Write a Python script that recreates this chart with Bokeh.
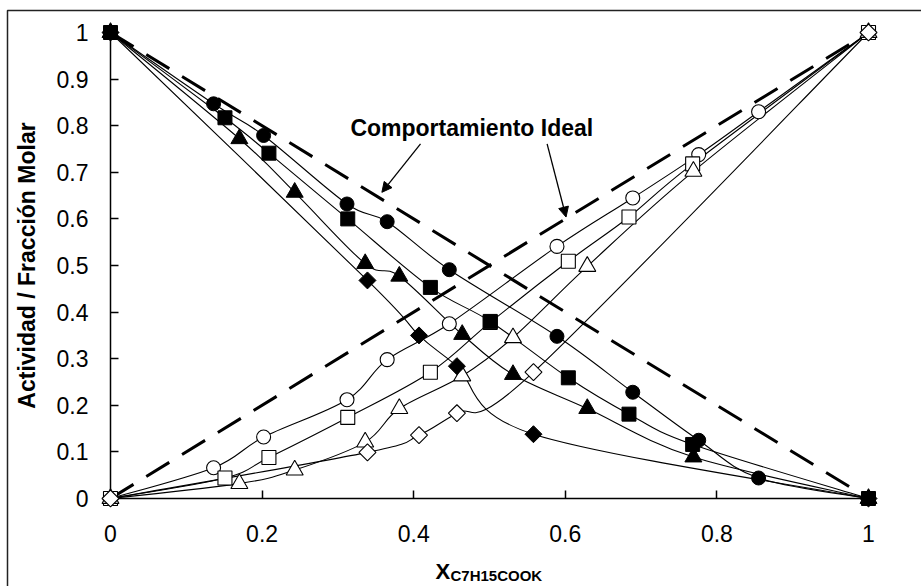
import math
from bokeh.plotting import figure
from bokeh.models import Range1d, FixedTicker, Label, Arrow, NormalHead
from bokeh.core.properties import value
from bokeh.embed import file_html
from bokeh.resources import INLINE

# ---------------- data ----------------
x_circ = [0, 0.136, 0.202, 0.312, 0.365, 0.447, 0.589, 0.689, 0.776, 0.855, 1]
y_circ_filled = [1, 0.847, 0.779, 0.632, 0.594, 0.491, 0.348, 0.228, 0.125, 0.044, 0]
y_circ_open = [0, 0.066, 0.132, 0.212, 0.298, 0.375, 0.541, 0.645, 0.738, 0.830, 1]

x_sq = [0, 0.151, 0.209, 0.313, 0.422, 0.501, 0.604, 0.684, 0.768, 1]
y_sq_filled = [1, 0.817, 0.741, 0.600, 0.453, 0.380, 0.259, 0.181, 0.116, 0]
y_sq_open = [0, 0.044, 0.088, 0.174, 0.271, 0.378, 0.509, 0.604, 0.718, 1]

x_tri = [0, 0.170, 0.243, 0.336, 0.381, 0.464, 0.531, 0.629, 0.769, 1]
y_tri_filled = [1, 0.772, 0.657, 0.504, 0.477, 0.352, 0.266, 0.193, 0.089, 0]
y_tri_open = [0, 0.032, 0.061, 0.121, 0.193, 0.263, 0.345, 0.498, 0.702, 1]

x_dia = [0, 0.339, 0.407, 0.457, 0.558, 1]
y_dia_filled = [1, 0.468, 0.350, 0.284, 0.138, 0]
y_dia_open = [0, 0.099, 0.136, 0.183, 0.271, 1]

x_ideal = [0, 1]
y_ideal_desc = [1, 0]
y_ideal_asc = [0, 1]

x_ticks = [0, 0.2, 0.4, 0.6, 0.8, 1]
x_tick_labels = ["0", "0.2", "0.4", "0.6", "0.8", "1"]
y_ticks = [0, 0.1, 0.2, 0.3, 0.4, 0.5, 0.6, 0.7, 0.8, 0.9, 1]
y_tick_labels = ["0", "0.1", "0.2", "0.3", "0.4", "0.5", "0.6", "0.7", "0.8", "0.9", "1"]

y_title = "Actividad / Fracción Molar"
x_title_main = "X"
x_title_sub = "C7H15COOK"
note_text = "Comportamiento Ideal"

FONT = "Liberation Sans"

# ---------------- figure ----------------
p = figure(width=921, height=586, x_range=Range1d(0, 1), y_range=Range1d(0, 1),
           output_backend="svg", toolbar_location=None, title=None,
           min_border_left=110, min_border_right=53, min_border_top=32, min_border_bottom=88)
p.grid.visible = False
p.outline_line_color = None
p.background_fill_color = "white"
p.border_fill_color = "white"

for ax in (p.xaxis, p.yaxis):
    ax.axis_line_width = 1.5
    ax.axis_line_color = "black"
    ax.major_tick_line_width = 1.5
    ax.major_tick_line_color = "black"
    ax.major_tick_in = 8
    ax.major_tick_out = 0
    ax.minor_tick_in = 0
    ax.minor_tick_out = 0
    ax.major_label_text_font = FONT
    ax.major_label_text_font_size = "23px"
    ax.major_label_text_color = "black"

p.xaxis.ticker = FixedTicker(ticks=x_ticks)
p.xaxis.major_label_overrides = {t: s for t, s in zip(x_ticks, x_tick_labels)}
p.xaxis.major_label_standoff = 26
p.yaxis.ticker = FixedTicker(ticks=y_ticks)
p.yaxis.major_label_overrides = {t: s for t, s in zip(y_ticks, y_tick_labels)}
p.yaxis.major_label_standoff = 22
p.yaxis.axis_label = y_title
p.yaxis.axis_label_text_font = FONT
p.yaxis.axis_label_text_font_style = "bold"
p.yaxis.axis_label_text_font_size = "23px"
p.yaxis.axis_label_text_color = "black"
p.yaxis.axis_label_standoff = 14

# outer chart border (left and top edges visible in the crop)
bx0 = (7 - 110) / 758.0
by0 = (498 - 10) / 466.0
p.line([bx0, bx0, 1.2], [-0.3, by0, by0], line_color="#222222", line_width=1.5, level="overlay")

# ideal behaviour dashed lines
p.line(x_ideal, y_ideal_desc, line_color="black", line_width=3, line_dash="27 15")
p.line(x_ideal, y_ideal_asc, line_color="black", line_width=3, line_dash="27 15")


def smooth(xs, ys):
    n = len(xs)
    out = dict(x0=[], y0=[], x1=[], y1=[], cx0=[], cy0=[], cx1=[], cy1=[])
    for i in range(n - 1):
        a = i - 1 if i > 0 else i
        d = i + 2 if i + 2 < n else i + 1
        out["x0"].append(xs[i]); out["y0"].append(ys[i])
        out["x1"].append(xs[i + 1]); out["y1"].append(ys[i + 1])
        out["cx0"].append(xs[i] + (xs[i + 1] - xs[a]) / 6.0)
        out["cy0"].append(ys[i] + (ys[i + 1] - ys[a]) / 6.0)
        out["cx1"].append(xs[i + 1] - (xs[d] - xs[i]) / 6.0)
        out["cy1"].append(ys[i + 1] - (ys[d] - ys[i]) / 6.0)
    return out


series = [
    (x_circ, y_circ_filled), (x_sq, y_sq_filled), (x_tri, y_tri_filled), (x_dia, y_dia_filled),
    (x_circ, y_circ_open), (x_sq, y_sq_open), (x_tri, y_tri_open), (x_dia, y_dia_open),
]
for xs, ys in series:
    b = smooth(xs, ys)
    p.bezier(b["x0"], b["y0"], b["x1"], b["y1"], b["cx0"], b["cy0"], b["cx1"], b["cy1"],
             line_color="black", line_width=1.1)

# markers
open_kw = dict(fill_color="white", line_color="black", line_width=1.1, level="overlay")
filled_kw = dict(fill_color="black", line_color="black", line_width=1, level="overlay")
p.scatter(x_circ, y_circ_open, marker="circle", size=14, **open_kw)
p.scatter(x_sq, y_sq_open, marker="square", size=14, **open_kw)
p.scatter(x_tri, y_tri_open, marker="triangle", size=17, **open_kw)
p.scatter(x_dia, y_dia_open, marker="square", size=12, angle=math.pi / 4, **open_kw)
p.scatter(x_circ, y_circ_filled, marker="circle", size=14, **filled_kw)
p.scatter(x_sq, y_sq_filled, marker="square", size=14, **filled_kw)
p.scatter(x_tri, y_tri_filled, marker="triangle", size=17, **filled_kw)
p.scatter(x_dia, y_dia_filled, marker="square", size=12, angle=math.pi / 4, **filled_kw)

# annotation
p.add_layout(Label(x=0.3165, y=0.794, text=note_text, text_font=FONT, text_font_style="bold",
                   text_font_size="23px", text_color="black", text_align="left",
                   text_baseline="alphabetic"))
for xs_, ys_, xe_, ye_ in [(0.409, 0.761, 0.358, 0.657), (0.576, 0.761, 0.601, 0.604)]:
    p.add_layout(Arrow(end=NormalHead(size=10, fill_color="black", line_color="black", line_width=1),
                       x_start=xs_, y_start=ys_, x_end=xe_, y_end=ye_,
                       line_color="black", line_width=1.3))

# x axis title with subscript (overlay-level text so it is drawn below the frame)
p.text(x=[0.5], y=[-0.157], text=[x_title_main], x_offset=-54, text_font=value(FONT),
       text_font_style="bold", text_font_size="22px", text_color="black",
       text_align="left", text_baseline="alphabetic", level="overlay")
p.text(x=[0.5], y=[-0.166], text=[x_title_sub], x_offset=-39, text_font=value(FONT),
       text_font_style="bold", text_font_size="15px", text_color="black",
       text_align="left", text_baseline="alphabetic", level="overlay")

open("out.html", "w").write(file_html(p, INLINE))
